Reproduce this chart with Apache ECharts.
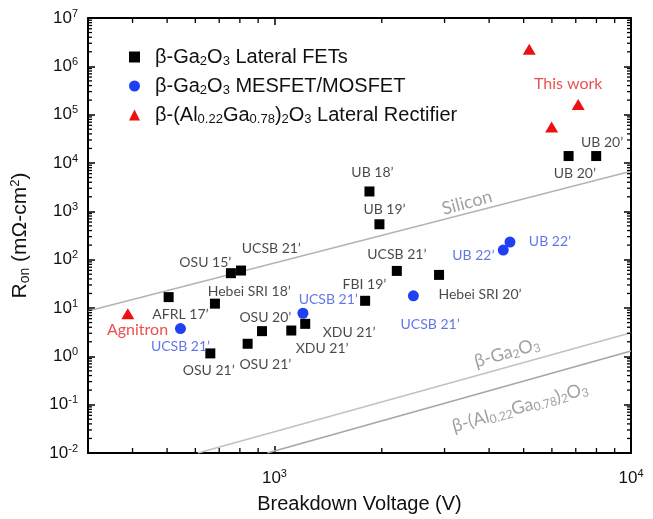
<!DOCTYPE html>
<html>
<head>
<meta charset="utf-8">
<script src="https://cdn.jsdelivr.net/npm/echarts@6/dist/echarts.min.js"></script>
<style>
  html, body { margin: 0; padding: 0; background: #fff; }
  #chart { width: 653px; height: 519px; }
</style>
</head>
<body>
<div id="chart"></div>
<script>
// Breakdown voltage (V) vs. specific on-resistance (mΩ·cm²)

// β-Ga2O3 lateral FETs
const fetV = [505, 755, 806, 681, 661, 841, 923, 1115, 1220, 1796, 2204, 2895, 1847, 1970, 6683, 7987];
const fetR = [16.8, 52.5, 59.6, 12.3, 1.15, 1.82, 3.32, 3.42, 4.70, 14.1, 58.5, 48.4, 2576, 540, 13930, 13930];
// β-Ga2O3 MESFET / MOSFET
const mosV = [545, 1202, 2453, 4383, 4577];
const mosR = [3.76, 7.79, 17.9, 158, 231];
// β-(Al0.22Ga0.78)2O3 lateral rectifiers
const rectV = [388, 5183, 5990, 7110];
const rectR = [7.64, 2.27e6, 55700, 163000];

// Unipolar material limits (end points)
const siV = [300, 10000];  const siR = [8.7, 6760];
const gaV = [610, 10000];  const gaR = [0.01, 3.07];
const alV = [955, 10000];  const alR = [0.01, 1.29];

// Annotations: [V, R, text]
const blackNotes = [
  [640, 86.9, 'OSU 15’'], [980, 171, 'UCSB 21’'], [850, 22.1, 'Hebei SRI 18’'],
  [545, 7.29, 'AFRL 17’'], [654, 0.501, 'OSU 21’'], [943, 0.665, 'OSU 21’'],
  [943, 6.45, 'OSU 20’'], [1620, 3.07, 'XDU 21’'], [1361, 1.44, 'XDU 21’'],
  [1788, 31.2, 'FBI 19’'], [2204, 129, 'UCSB 21’'], [3772, 18.8, 'Hebei SRI 20’'],
  [1883, 6440, 'UB 18’'], [2035, 1099, 'UB 19’'], [8300, 26640, 'UB 20’'], [6960, 5945, 'UB 20’']
];
const blueNotes = [
  [545, 1.58, 'UCSB 21’'], [1415, 15.3, 'UCSB 21’'], [2733, 4.54, 'UCSB 21’'],
  [3613, 124.6, 'UB 22’'], [5924, 241, 'UB 22’']
];
const redNotes = [[413, 3.58, 'Agnitron'], [6666, 440500, 'This work']];
const limitNotes = [[3468, 1507, 'Silicon'], [4489, 1.19, 'β-Ga2O3'], [4882, 0.0883, 'β-(Al0.22Ga0.78)2O3']];

const seriesNames = ['β-Ga2O3 Lateral FETs', 'β-Ga2O3 MESFET/MOSFET', 'β-(Al0.22Ga0.78)2O3 Lateral Rectifier'];

// Axis ranges and log minor ticks
const X_MIN = 300, X_MAX = 10000, Y_MIN = 0.01, Y_MAX = 1e7;
const tickMultipliers = [2, 3, 4, 5, 6, 7, 8, 9];
const xDecades = [100, 1000];
const yDecades = [0.01, 0.1, 1, 10, 100, 1000, 10000, 1e5, 1e6];

const xMinor = [];
xDecades.forEach(d => tickMultipliers.forEach(m => { const v = m * d; if (v > X_MIN && v < X_MAX) xMinor.push(v); }));
const yMinor = [];
yDecades.forEach(d => tickMultipliers.forEach(m => { const v = m * d; if (v > Y_MIN && v < Y_MAX) yMinor.push(v); }));

const zip = (a, b) => a.map((v, i) => [v, b[i]]);
// chemical formula -> rich text with subscripts
const chem = s => s.replace(/([A-Za-z\)])(\d+(?:\.\d+)?)/g, '$1{sub|$2}');

const FONT = 'Liberation Sans';
const NOTE_FONT = 'Lato';
const TICK_COLOR = '#000';

function notesSeries(notes, color, size) {
  return {
    type: 'scatter', silent: true, symbolSize: 0.01, z: 5,
    itemStyle: { color: 'rgba(0,0,0,0)' },
    data: notes.map(n => ({ value: [n[0], n[1]], name: n[2] })),
    label: {
      show: true, position: 'inside', formatter: p => p.name,
      color: color, fontFamily: NOTE_FONT, fontSize: size
    }
  };
}

const powLabel = v => {
  const e = Math.round(Math.log10(v));
  if (Math.abs(v - Math.pow(10, e)) / Math.pow(10, e) > 1e-6) return '';
  return '10{sup|' + e + '}';
};
const labelRich = { sup: { fontSize: 11, fontFamily: FONT, color: '#111', padding: [0, 0, 9, 0] } };

const axisLineStyle = { color: '#000', width: 2 };
const majorTick = () => ({ show: true, inside: true, length: 7, lineStyle: { color: TICK_COLOR, width: 1.5 } });
const baseX = { type: 'log', logBase: 10, min: X_MIN, max: X_MAX, splitLine: { show: false } };
const baseY = { type: 'log', logBase: 10, min: Y_MIN, max: Y_MAX, splitLine: { show: false } };

const chart = echarts.init(document.getElementById('chart'), null, { renderer: 'canvas' });

const option = {
  animation: false,
  backgroundColor: '#fff',
  grid: { left: 88, right: 22, top: 18, bottom: 63, containLabel: false },
  legend: {
    orient: 'vertical', left: 124, top: 42, itemGap: 8,
    itemWidth: 11, itemHeight: 11,
    data: [
      { name: seriesNames[0], icon: 'rect' },
      { name: seriesNames[1], icon: 'circle' },
      { name: seriesNames[2], icon: 'triangle' }
    ],
    formatter: name => '{gap| }' + chem(name),
    textStyle: {
      fontFamily: FONT, fontSize: 20, color: '#111',
      rich: { gap: { width: 10 }, sub: { fontSize: 13, fontFamily: FONT, color: '#111', padding: [9, 0, 0, 0] } }
    }
  },
  xAxis: [
    Object.assign({}, baseX, {
      position: 'bottom',
      name: 'Breakdown Voltage (V)', nameLocation: 'middle', nameGap: 41,
      nameTextStyle: { fontFamily: FONT, fontSize: 20, color: '#111' },
      axisLine: { show: true, onZero: false, lineStyle: axisLineStyle },
      axisTick: majorTick(),
      axisLabel: { show: true, margin: 15, formatter: powLabel, showMinLabel: false,
        fontFamily: FONT, fontSize: 17, color: '#111', rich: labelRich }
    }),
    Object.assign({}, baseX, {
      position: 'top',
      axisLine: { show: true, onZero: false, lineStyle: axisLineStyle },
      axisTick: majorTick(),
      axisLabel: { show: false }
    })
  ],
  yAxis: [
    Object.assign({}, baseY, {
      position: 'left',
      name: 'R{sub|on} (mΩ-cm{sup|2})', nameLocation: 'middle', nameGap: 56,
      nameTextStyle: { fontFamily: FONT, fontSize: 21, color: '#111',
        rich: { sub: { fontSize: 14, fontFamily: FONT, color: '#111', padding: [9, 0, 0, 0] },
                sup: { fontSize: 13, fontFamily: FONT, color: '#111', padding: [0, 0, 10, 0] } } },
      axisLine: { show: true, onZero: false, lineStyle: axisLineStyle },
      axisTick: majorTick(),
      axisLabel: { show: true, margin: 10, formatter: powLabel,
        fontFamily: FONT, fontSize: 17, color: '#111', rich: labelRich }
    }),
    Object.assign({}, baseY, {
      position: 'right',
      axisLine: { show: true, onZero: false, lineStyle: axisLineStyle },
      axisTick: majorTick(),
      axisLabel: { show: false }
    })
  ],
  series: [
    // material limit lines
    { type: 'line', silent: true, symbol: 'none', z: 1, data: zip(siV, siR),
      lineStyle: { color: '#b4b4b4', width: 1.5 } },
    { type: 'line', silent: true, symbol: 'none', z: 1, data: zip(gaV, gaR),
      lineStyle: { color: '#c2c2c2', width: 1.5 } },
    { type: 'line', silent: true, symbol: 'none', z: 1, data: zip(alV, alR),
      lineStyle: { color: '#a6a6a6', width: 1.5 } },
    // measured devices
    { name: seriesNames[0], type: 'scatter', symbol: 'rect', symbolSize: 10, z: 4,
      itemStyle: { color: '#000', opacity: 1 }, data: zip(fetV, fetR) },
    { name: seriesNames[1], type: 'scatter', symbol: 'circle', symbolSize: 11, z: 4,
      itemStyle: { color: '#1f3ff2', opacity: 1 }, data: zip(mosV, mosR) },
    { name: seriesNames[2], type: 'scatter', symbol: 'triangle', symbolSize: [13, 11], z: 4,
      itemStyle: { color: '#ee1010', opacity: 1 }, data: zip(rectV, rectR) },
    // labels
    notesSeries(blackNotes, '#1a1a1a', 14),
    notesSeries(blueNotes, '#3a55e0', 14),
    notesSeries(redNotes, '#e52424', 16),
    {
      type: 'scatter', silent: true, symbolSize: 0.01, z: 5,
      itemStyle: { color: 'rgba(0,0,0,0)' },
      data: limitNotes.map((n, i) => ({ value: [n[0], n[1]], name: n[2], label: { rotate: i === 0 ? 15 : 16 } })),
      label: {
        show: true, position: 'inside', formatter: p => chem(p.name),
        color: '#8a8a8a', fontFamily: NOTE_FONT, fontSize: 18,
        rich: { sub: { fontSize: 12, fontFamily: NOTE_FONT, color: '#8a8a8a', padding: [8, 0, 0, 0] } }
      }
    }
  ]
};

chart.setOption(option);

// Log-scale minor ticks on all four sides, placed through the axis scales
const finder = { xAxisIndex: 0, yAxisIndex: 0 };
const tickStyle = { stroke: TICK_COLOR, lineWidth: 1.3 };
const tickEls = [];
xMinor.forEach(v => {
  const b = chart.convertToPixel(finder, [v, Y_MIN]);
  const t = chart.convertToPixel(finder, [v, Y_MAX]);
  tickEls.push({ type: 'line', silent: true, z: 10, shape: { x1: b[0], y1: b[1], x2: b[0], y2: b[1] - 5 }, style: tickStyle });
  tickEls.push({ type: 'line', silent: true, z: 10, shape: { x1: t[0], y1: t[1], x2: t[0], y2: t[1] + 5 }, style: tickStyle });
});
yMinor.forEach(v => {
  const l = chart.convertToPixel(finder, [X_MIN, v]);
  const r = chart.convertToPixel(finder, [X_MAX, v]);
  tickEls.push({ type: 'line', silent: true, z: 10, shape: { x1: l[0], y1: l[1], x2: l[0] + 4, y2: l[1] }, style: tickStyle });
  tickEls.push({ type: 'line', silent: true, z: 10, shape: { x1: r[0], y1: r[1], x2: r[0] - 4, y2: r[1] }, style: tickStyle });
});
chart.setOption({ graphic: { elements: tickEls } });
</script>
</body>
</html>
